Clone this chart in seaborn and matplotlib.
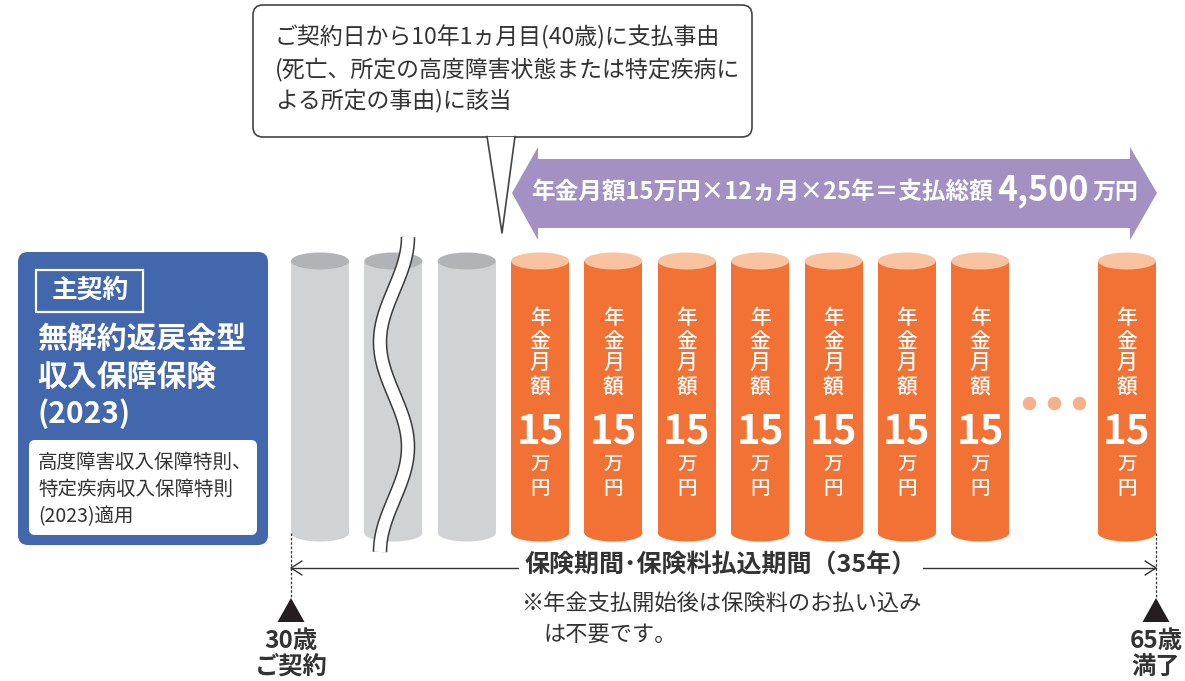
import numpy as np
import pandas as pd
import matplotlib
matplotlib.use("Agg")
import matplotlib.pyplot as plt
from matplotlib.patches import FancyBboxPatch, Rectangle, Ellipse, Polygon
import seaborn as sns

# --- data ---
cyl_slot = [0, 1, 2, 3, 4, 5, 6, 7, 8, 9, 11]          # year slots drawn (slot 10 = "...")
cyl_phase = ["premium"] * 3 + ["annuity"] * 8
monthly_pension = 15                                    # 万円 per month
pension_label = "年金月額"
pension_unit = ["万", "円"]

panel_tag = "主契約"
panel_title = ["無解約返戻金型", "収入保障保険", "(2023)"]
panel_note = ["高度障害収入保障特則、", "特定疾病収入保障特則", "(2023)適用"]

callout_lines = ["ご契約日から10年1ヵ月目(40歳)に支払事由",
                 "(死亡、所定の高度障害状態または特定疾病に",
                 "よる所定の事由)に該当"]
total_formula = "年金月額15万円×12ヵ月×25年＝支払総額"
total_amount = "4,500"
total_unit = "万円"

period_label = "保険期間･保険料払込期間（35年）"
footnote = ["※年金支払開始後は保険料のお払い込み", "は不要です。"]
start_label = ["30歳", "ご契約"]
end_label = ["65歳", "満了"]

# --- layout (pixels) ---
W, H = 1185, 681
CYL_X0, CYL_PITCH = 320, 73.36
BODY_TOP, BODY_BOT = 261, 533
CYL_W, ELL_H = 58, 17

GRAY, GRAY_TOP = "#d1d2d4", "#b1b3b6"
ORANGE, ORANGE_TOP = "#f27134", "#f9c3a0"
BLUE = "#4267ad"
PURPLE = "#a391c4"
DARK = "#333333"

sns.set_theme(style="white")
plt.rcParams["font.family"] = ["Noto Sans CJK JP", "DejaVu Sans"]

fig = plt.figure(figsize=(W / 100, H / 100), dpi=100)
ax = fig.add_axes([0, 0, 1, 1])

# cylinder bodies
cyl = pd.DataFrame({
    "x": CYL_X0 + np.array(cyl_slot) * CYL_PITCH,
    "h": BODY_BOT - BODY_TOP,
    "phase": cyl_phase,
})
sns.barplot(data=cyl, x="x", y="h", hue="phase", native_scale=True,
            palette={"premium": GRAY, "annuity": ORANGE}, saturation=1,
            width=CYL_W / CYL_PITCH, bottom=BODY_TOP, errorbar=None,
            legend=False, linewidth=0, ax=ax, zorder=2)

for cx, ph in zip(cyl["x"], cyl["phase"]):
    body = GRAY if ph == "premium" else ORANGE
    top = GRAY_TOP if ph == "premium" else ORANGE_TOP
    ax.add_patch(Ellipse((cx, BODY_BOT), CYL_W, ELL_H, color=body, lw=0, zorder=1))
    ax.add_patch(Ellipse((cx, BODY_TOP), CYL_W, ELL_H, color=top, lw=0, zorder=3))
    if ph == "annuity":
        for i, ch in enumerate(pension_label):
            ax.text(cx, 318 + i * 23, ch, color="white", fontsize=15, fontweight="medium",
                    ha="center", va="center", zorder=4)
        ax.text(cx, 432, str(monthly_pension), color="white", fontsize=29, fontweight="bold",
                ha="center", va="center", zorder=4)
        for i, ch in enumerate(pension_unit):
            ax.text(cx, 464 + i * 24, ch, color="white", fontsize=14, fontweight="medium",
                    ha="center", va="center", zorder=4)

# "..." between the last two cylinders
dot_x = CYL_X0 + (10 + np.array([-0.34, 0, 0.34])) * CYL_PITCH
ax.scatter(dot_x, [403] * 3, s=95, color="#f6b08b", lw=0, zorder=3)

# wavy break through the second gray cylinder
wy = np.linspace(237, 552, 200)
wx = 394 + 14 * np.cos(2 * np.pi * (wy - 237) / 210)
ax.plot(wx, wy, color="#3a3a3a", lw=10.5, solid_capstyle="butt", zorder=5)
ax.plot(wx, wy, color="white", lw=8.3, solid_capstyle="butt", zorder=6)

# blue panel
ax.add_patch(FancyBboxPatch((18, 252), 250, 293, boxstyle="round,pad=0,rounding_size=10",
                            color=BLUE, lw=0, zorder=2))
ax.add_patch(Rectangle((36, 270), 107, 42, fill=False, ec="white", lw=1.6, zorder=3))
ax.text(90, 290, panel_tag, color="white", fontsize=18.5, fontweight="bold",
        ha="center", va="center", zorder=4)
for i, line in enumerate(panel_title):
    ax.text(37, 339 + i * 37.5, line, color="white", fontsize=21.5, fontweight="bold",
            ha="left", va="center", zorder=4)
ax.add_patch(FancyBboxPatch((29, 440), 228, 95, boxstyle="round,pad=0,rounding_size=6",
                            color="white", lw=0, zorder=3))
for i, line in enumerate(panel_note):
    ax.text(38, 462 + i * 27.5, line, color=DARK, fontsize=14,
            ha="left", va="center", zorder=4)

# callout bubble
ax.add_patch(FancyBboxPatch((253, 5), 499, 132, boxstyle="round,pad=0,rounding_size=10",
                            fc="white", ec="#444444", lw=1.2, zorder=2))
tail = [(487, 137), (502, 233), (515, 137)]
ax.add_patch(Polygon(tail, closed=True, fc="white", ec="none", zorder=3))
ax.plot([487, 502, 515], [136.4, 233, 136.4], color="#444444", lw=1.2, zorder=4)
for i, line in enumerate(callout_lines):
    ax.text(275, 37 + i * 32, line, color=DARK, fontsize=16.5, ha="left", va="center", zorder=4)

# purple double arrow
arrow = [(512, 193), (538, 147), (538, 159), (1130, 159), (1130, 147), (1157, 193),
         (1130, 240), (1130, 228), (538, 228), (538, 240)]
ax.add_patch(Polygon(arrow, closed=True, fc=PURPLE, ec="none", zorder=2))
ax.text(531, 192, total_formula, color="white", fontsize=17, fontweight="bold",
        ha="left", va="center", zorder=3)
ax.text(1138, 192, total_unit, color="white", fontsize=16.5, fontweight="bold",
        ha="right", va="center", zorder=3)
ax.text(1089, 190, total_amount, color="white", fontsize=24.5, fontweight="bold",
        ha="right", va="center", zorder=3)

# period line
LX, RX, LY = 291, 1156, 568
ax.plot([LX, RX], [LY, LY], color=DARK, lw=1.0, zorder=2)
ax.plot([LX + 11, LX, LX + 11], [LY - 7, LY, LY + 7], color=DARK, lw=1.0, zorder=2)
ax.plot([RX - 11, RX, RX - 11], [LY - 7, LY, LY + 7], color=DARK, lw=1.0, zorder=2)
ax.text(721, 565, period_label, color=DARK, fontsize=18, fontweight="bold",
        ha="center", va="center", zorder=3,
        bbox=dict(fc="white", ec="none", pad=4))
for x in (LX, RX):
    ax.plot([x, x], [533, 598], color=DARK, lw=0.9, ls=(0, (2, 1.5)), zorder=2)
    ax.add_patch(Polygon([(x - 13.5, 622), (x, 598), (x + 13.5, 622)], closed=True,
                         fc="#231f20", ec="none", zorder=3))
for x, lab in ((LX, start_label), (RX, end_label)):
    for i, line in enumerate(lab):
        ax.text(x, 641 + i * 26, line, color=DARK, fontsize=17.5, fontweight="bold",
                ha="center", va="center", zorder=3)

ax.text(522, 604, footnote[0], color=DARK, fontsize=16, ha="left", va="center")
ax.text(543, 634, footnote[1], color=DARK, fontsize=16, ha="left", va="center")

ax.set_xlim(0, W)
ax.set_ylim(H, 0)
ax.axis("off")

fig.savefig("out.png", dpi=100, facecolor="white")
